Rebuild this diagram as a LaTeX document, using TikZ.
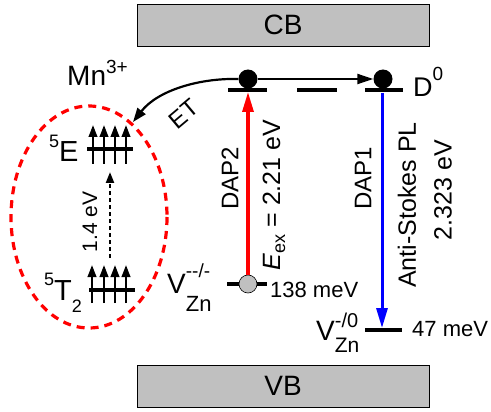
\documentclass[tikz,border=0pt]{standalone}
\usepackage{fontspec}
\setmainfont{Liberation Sans}
\usetikzlibrary{arrows.meta}
\newcommand{\fs}[1]{\fontsize{#1}{#1}\selectfont}
\definecolor{bandgray}{HTML}{C0C0C0}
\begin{document}
\begin{tikzpicture}[x=1pt,y=-1pt,
  band/.style={draw=black, line width=0.8pt, fill=bandgray, minimum width=292pt, minimum height=42pt, inner sep=0pt},
  lvl/.style={line width=3.8pt},
  dot/.style={circle, fill=black, minimum size=19pt, inner sep=0pt},
  gdot/.style={circle, fill=bandgray, draw=black, line width=0.6pt, minimum size=18pt, inner sep=0pt},
  spin/.style={line width=2.4pt, -{Triangle[length=12pt,width=8.5pt]}},
  lbl/.style={inner sep=0pt, anchor=base west},
  rlbl/.style={inner sep=0pt, rotate=90}]
\useasboundingbox (0,0) rectangle (491,412);
% bands
\node[band] (CB) at (283,25) {\fs{28}CB};
\node[band] (VB) at (283,386) {\fs{28}VB};
% donor levels
\coordinate (l1a) at (228,90); \coordinate (l1b) at (267,90);
\coordinate (mda) at (297,90); \coordinate (mdb) at (337,90);
\coordinate (l2a) at (365,90); \coordinate (l2b) at (403,90);
\draw[lvl] (l1a) -- (l1b);
\draw[lvl] (mda) -- (mdb);
\draw[lvl] (l2a) -- (l2b);
\node[dot] (d1) at (248,79) {};
\node[dot] (d2) at (383,79) {};
% acceptor levels
\coordinate (a1a) at (227,284); \coordinate (a1b) at (267,284);
\draw[lvl] (a1a) -- (a1b);
\node[gdot] (g) at (248,284) {};
\coordinate (a2a) at (365,330); \coordinate (a2b) at (402,330);
\draw[lvl] (a2a) -- (a2b);
% transitions
\coordinate (redtip) at (248,92);
\draw[red, line width=3.2pt, -{Triangle[length=20pt,width=11pt]}] (g.north) -- (redtip);
\coordinate (bluetop) at (382,93); \coordinate (bluetip) at (382,328);
\draw[blue, line width=3pt, -{Triangle[length=20pt,width=11pt]}] (bluetop) -- (bluetip);
\draw[line width=2.2pt, -{Triangle[length=16pt,width=10pt]}] (d1.east) -- (d2.west);
\coordinate (ettip) at (133,122);
\draw[line width=2.2pt, -{Triangle[length=14pt,width=10pt]}] (d1.west) .. controls (200,78) and (158,90) .. (ettip);
% Mn levels
\coordinate (ea) at (87,149); \coordinate (eb) at (133,149);
\draw[lvl] (ea) -- (eb);
\foreach \x in {93,104,115,126} \draw[spin] (\x,164) -- (\x,125);
\coordinate (ta) at (89,290); \coordinate (tb) at (135,290);
\draw[lvl] (ta) -- (tb);
\foreach \x in {92,104,115,126} \draw[spin] (\x,303) -- (\x,265);
\coordinate (dashbot) at (110,258); \coordinate (dashtop) at (110,172);
\draw[line width=2.2pt, dash pattern=on 4pt off 3pt, -{Triangle[length=11pt,width=8pt]}] (dashbot) -- (dashtop);
\draw[red, line width=3.2pt, dash pattern=on 8pt off 6pt] (89,217) ellipse [x radius=78, y radius=111];
% labels
\node[lbl] (mn) at (67,86) {\fs{28}Mn\raisebox{12pt}{\fs{19}3+}};
\node[lbl] (E5) at (49,162) {\raisebox{14pt}{\fs{18}5}\fs{29}E};
\node[lbl] (T5) at (44,300) {\raisebox{15pt}{\fs{18}5}\fs{29}T\raisebox{-13pt}{\fs{18}2}};
\node[lbl] (v1) at (167,293) {\fs{28}V\rlap{\raisebox{16pt}{\fs{19}-{}-/-}}\raisebox{-19pt}{\fs{22}Zn}};
\node[lbl] (v2) at (316,340) {\fs{28}V\rlap{\raisebox{13pt}{\fs{20}-/0}}\raisebox{-13pt}{\fs{21}Zn}};
\node[lbl] (D0) at (413,97) {\fs{27}D\raisebox{16pt}{\fs{19}0}};
\node[lbl] (m138) at (270,298) {\fs{22}138 meV};
\node[lbl] (m47) at (412,336) {\fs{22}47 meV};
\node[inner sep=0pt, rotate=40] (et) at (184,114) {\fs{24}ET};
\node[rlbl] (dap2) at (230,178) {\fs{24}DAP2};
\node[rlbl] (eex) at (274,195) {\fs{25}\textit{E}\raisebox{-5pt}{\fs{18}ex} = 2.21 eV};
\node[rlbl] (dap1) at (363,178) {\fs{24}DAP1};
\node[rlbl] (asp) at (407,205) {\fs{25}Anti-Stokes PL};
\node[rlbl] (e2323) at (443,190) {\fs{25}2.323 eV};
\node[rlbl] (e14) at (90,222) {\fs{21}1.4 eV};
\end{tikzpicture}
\end{document}
